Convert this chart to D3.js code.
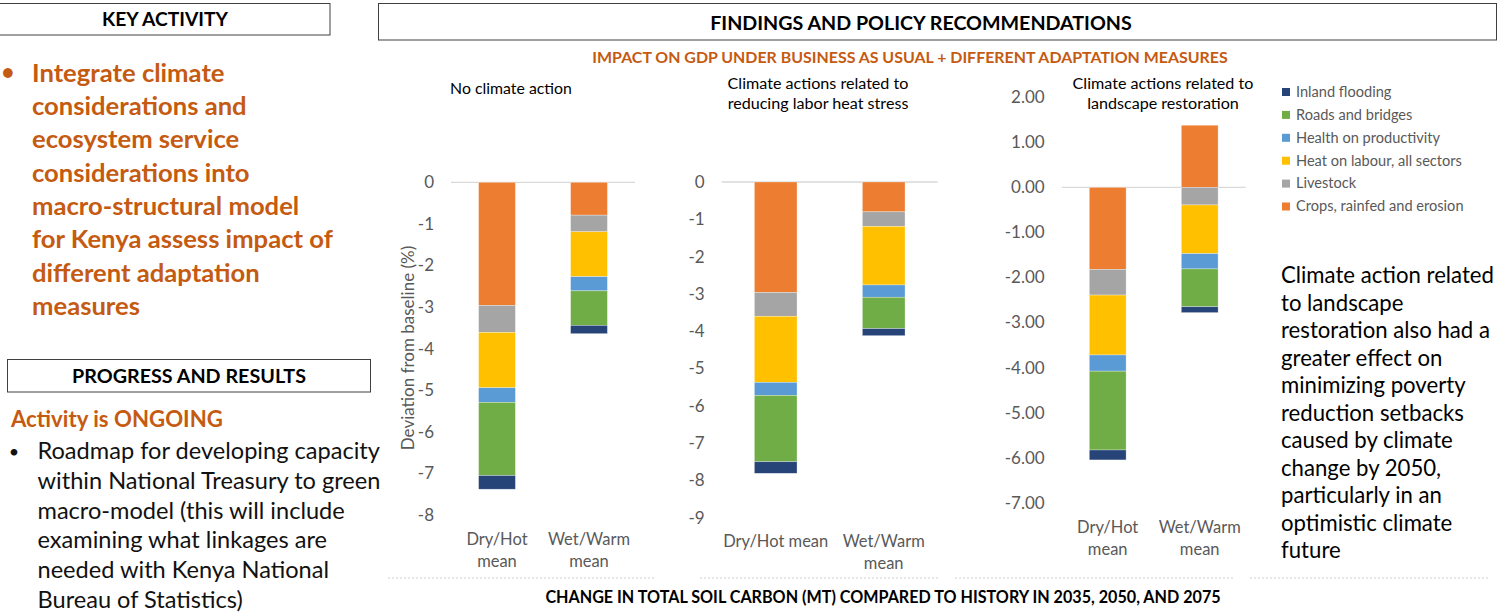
<!DOCTYPE html>
<html lang="en">
<head>
<meta charset="utf-8">
<title>Kenya GDP impact under adaptation measures</title>
<script src="https://d3js.org/d3.v7.min.js"></script>
<style>
  body { margin: 0; background: #fff; }
  svg { display: block; font-family: Lato, "Open Sans", sans-serif; }
</style>
</head>
<body>
<script>
// ---- data ----
var categories = ["Dry/Hot mean", "Wet/Warm mean"];
var seriesNames = ["Inland flooding", "Roads and bridges", "Health on productivity",
                   "Heat on labour, all sectors", "Livestock", "Crops, rainfed and erosion"];

// one array per series: [panel][Dry/Hot, Wet/Warm], deviation from baseline (%)
var crops      = [[-2.96, -0.79], [-2.96, -0.80], [-1.82,  1.38]];
var livestock  = [[-0.65, -0.40], [-0.64, -0.39], [-0.57, -0.39]];
var heatLabour = [[-1.33, -1.08], [-1.77, -1.57], [-1.33, -1.08]];
var health     = [[-0.35, -0.34], [-0.35, -0.33], [-0.36, -0.34]];
var roads      = [[-1.76, -0.83], [-1.78, -0.84], [-1.75, -0.84]];
var flooding   = [[-0.33, -0.20], [-0.31, -0.19], [-0.22, -0.13]];

var panelTitles = [["No climate action"],
                   ["Climate actions related to", "reducing labor heat stress"],
                   ["Climate actions related to", "landscape restoration"]];
var categoryLabels = [[["Dry/Hot", "mean"], ["Wet/Warm", "mean"]],
                      [["Dry/Hot mean"], ["Wet/Warm", "mean"]],
                      [["Dry/Hot", "mean"], ["Wet/Warm", "mean"]]];
var tickValues = [[0, -1, -2, -3, -4, -5, -6, -7, -8],
                  [0, -1, -2, -3, -4, -5, -6, -7, -8, -9],
                  [2, 1, 0, -1, -2, -3, -4, -5, -6, -7]];
var tickFormats = ["d", "d", ".2f"];

// series stacked outwards from zero: crops first, flooding last
var stackKeys = ["Crops, rainfed and erosion", "Livestock", "Heat on labour, all sectors",
                 "Health on productivity", "Roads and bridges", "Inland flooding"];
var seriesValues = {
  "Crops, rainfed and erosion": crops,
  "Livestock": livestock,
  "Heat on labour, all sectors": heatLabour,
  "Health on productivity": health,
  "Roads and bridges": roads,
  "Inland flooding": flooding
};

var color = d3.scaleOrdinal()
  .domain(seriesNames)
  .range(["#264478", "#70ad47", "#5b9bd5", "#ffc000", "#a5a5a5", "#ed7d31"]);

var W = 1507, H = 614;
var orange = "#c55a11";

var svg = d3.select("body").append("svg")
  .attr("width", W).attr("height", H);
svg.append("rect").attr("width", W).attr("height", H).attr("fill", "#fff");

// scale a block of text so its widest line gets the target width
function textBlock(g, lines, o) {
  var t = g.append("g");
  var nodes = lines.map(function(line, i) {
    return t.append("text")
      .attr("x", o.x)
      .attr("y", o.y + i * o.lh)
      .attr("text-anchor", o.anchor || "start")
      .attr("font-size", o.size)
      .attr("font-weight", o.weight || "normal")
      .attr("fill", o.fill || "#000")
      .text(line);
  });
  if (o.width) {
    var widest = d3.max(nodes, function(n) { return n.node().getComputedTextLength(); });
    var fs = o.size * o.width / widest;
    nodes.forEach(function(n) { n.attr("font-size", fs); });
  }
  return t;
}

// ---- left column ----
svg.append("rect").attr("x", -1).attr("y", 3.5).attr("width", 331).attr("height", 31.5)
  .attr("fill", "none").attr("stroke", "#404040").attr("stroke-width", 1);
textBlock(svg, ["KEY ACTIVITY"], {x: 165, y: 26, lh: 0, size: 16, weight: "bold", anchor: "middle", width: 126});

svg.append("text").attr("x", 8).attr("y", 80).attr("text-anchor", "middle")
  .attr("font-size", 22).attr("font-weight", "bold").attr("fill", orange).text("•");
textBlock(svg, ["Integrate climate", "considerations and", "ecosystem service",
                "considerations into", "macro-structural model",
                "for Kenya assess impact of", "different adaptation", "measures"],
  {x: 32, y: 81.7, lh: 33.3, size: 22, weight: "bold", fill: orange, width: 301});

svg.append("rect").attr("x", 7.5).attr("y", 359.5).attr("width", 363).attr("height", 32.5)
  .attr("fill", "none").attr("stroke", "#404040").attr("stroke-width", 1);
textBlock(svg, ["PROGRESS AND RESULTS"], {x: 189, y: 383, lh: 0, size: 16, weight: "bold", anchor: "middle", width: 234});

textBlock(svg, ["Activity is ONGOING"], {x: 11, y: 427, lh: 0, size: 19, weight: "bold", fill: orange, width: 212});
svg.append("text").attr("x", 14).attr("y", 458).attr("text-anchor", "middle")
  .attr("font-size", 18).attr("fill", "#111").text("•");
textBlock(svg, ["Roadmap for developing capacity", "within National Treasury to green",
                "macro-model (this will include", "examining what linkages are",
                "needed with Kenya National", "Bureau of Statistics)"],
  {x: 37.5, y: 459, lh: 29.8, size: 19, fill: "#111", width: 343});

// ---- findings header ----
svg.append("rect").attr("x", 378.5).attr("y", 3.5).attr("width", 1118).attr("height", 36.5)
  .attr("fill", "none").attr("stroke", "#404040").attr("stroke-width", 1);
textBlock(svg, ["FINDINGS AND POLICY RECOMMENDATIONS"], {x: 921, y: 30, lh: 0, size: 16, weight: "bold", anchor: "middle", width: 422});
textBlock(svg, ["IMPACT ON GDP UNDER BUSINESS AS USUAL + DIFFERENT ADAPTATION MEASURES"],
  {x: 910, y: 63, lh: 0, size: 13, weight: "bold", fill: orange, anchor: "middle", width: 636});

// ---- the three panels ----
var panels = [
  {x0: 451,   x1: 635,   y0: 515,   y1: 182.3, domain: [-8, 0], pin: 0.6,   titleX: 511,  titleY: 94, titleW: 122, labelY: 545, axisTitle: true},
  {x0: 721.7, x1: 937.7, y0: 517.7, y1: 182,   domain: [-9, 0], pin: 0.605, titleX: 818,  titleY: 89, titleW: 181, labelY: 547},
  {x0: 1061.7, x1: 1245.7, y0: 502.7, y1: 97.3, domain: [-7, 2], pin: 0.6,  titleX: 1163, titleY: 89, titleW: 181, labelY: 532.5}
];

var stack = d3.stack()
  .keys(stackKeys)
  .offset(d3.stackOffsetDiverging);

panels.forEach(function(p, pi) {
  var g = svg.append("g");

  var x = d3.scaleBand()
    .domain(categories)
    .range([p.x0, p.x1])
    .paddingInner(p.pin)
    .paddingOuter(p.pin / 2);

  var y = d3.scaleLinear()
    .domain(p.domain)
    .range([p.y0, p.y1]);

  var rows = categories.map(function(c, ci) {
    var row = {category: c};
    stackKeys.forEach(function(k) { row[k] = seriesValues[k][pi][ci]; });
    return row;
  });
  var layers = stack(rows);

  // zero line
  g.append("line")
    .attr("x1", p.x0).attr("x2", p.x1)
    .attr("y1", y(0)).attr("y2", y(0))
    .attr("stroke", "#d9d9d9").attr("stroke-width", 1.3);

  g.selectAll(".layer")
    .data(layers)
    .enter().append("g")
    .attr("fill", function(d) { return color(d.key); })
    .selectAll("rect")
    .data(function(d) { return d; })
    .enter().append("rect")
    .attr("x", function(d) { return x(d.data.category); })
    .attr("width", x.bandwidth())
    .attr("y", function(d) { return y(Math.max(d[0], d[1])); })
    .attr("height", function(d) { return Math.abs(y(d[0]) - y(d[1])); })
    .attr("stroke", "#fff")
    .attr("stroke-opacity", 0.5)
    .attr("stroke-width", 0.6);

  // y axis, labels only (plain hyphen for minus, like the original)
  var fmt = d3.format(tickFormats[pi]);
  var axis = g.append("g")
    .attr("transform", "translate(" + p.x0 + ",0)")
    .call(d3.axisLeft(y)
      .tickValues(tickValues[pi])
      .tickFormat(function(d) { return fmt(d).replace("\u2212", "-"); })
      .tickSize(0)
      .tickPadding(17));
  axis.select(".domain").remove();
  axis.selectAll("text")
    .attr("font-family", "Lato, sans-serif")
    .attr("font-size", 17)
    .attr("fill", "#595959");

  // category labels
  categories.forEach(function(c, ci) {
    var cx = x(c) + x.bandwidth() / 2;
    categoryLabels[pi][ci].forEach(function(line, li) {
      g.append("text")
        .attr("x", cx).attr("y", p.labelY + li * 22)
        .attr("text-anchor", "middle")
        .attr("font-size", 16.5).attr("fill", "#595959")
        .text(line);
    });
  });

  // panel title
  textBlock(g, panelTitles[pi], {x: p.titleX, y: p.titleY, lh: 20, size: 15, anchor: "middle", fill: "#000", width: p.titleW});

  if (p.axisTitle) {
    g.append("text")
      .attr("transform", "translate(414,348) rotate(-90)")
      .attr("text-anchor", "middle")
      .attr("font-size", 17).attr("fill", "#595959")
      .text("Deviation from baseline (%)");
  }
});

// ---- legend ----
var legend = svg.append("g").attr("transform", "translate(1282,88)");
seriesNames.forEach(function(name, i) {
  var row = legend.append("g").attr("transform", "translate(0," + (i * 22.9) + ")");
  row.append("rect").attr("width", 8).attr("height", 8).attr("fill", color(name));
  row.append("text").attr("x", 14).attr("y", 8.8)
    .attr("font-size", 14.6).attr("fill", "#595959").text(name);
});

// ---- right note ----
textBlock(svg, ["Climate action related", "to landscape", "restoration also had a",
                "greater effect on", "minimizing poverty", "reduction setbacks",
                "caused by climate", "change by 2050,", "particularly in an",
                "optimistic climate", "future"],
  {x: 1281, y: 283, lh: 27.5, size: 19, fill: "#000", width: 213});

// ---- footer ----
[[388, 655], [700, 940], [955, 1235], [1250, 1490]].forEach(function(s) {
  svg.append("line").attr("x1", s[0]).attr("x2", s[1]).attr("y1", 578).attr("y2", 578)
    .attr("stroke", "#d0d0d0").attr("stroke-dasharray", "2,2");
});
textBlock(svg, ["CHANGE IN TOTAL SOIL CARBON (MT) COMPARED TO HISTORY IN 2035, 2050, AND 2075"],
  {x: 883, y: 603, lh: 0, size: 12, weight: "bold", anchor: "middle", width: 676});
</script>
</body>
</html>
